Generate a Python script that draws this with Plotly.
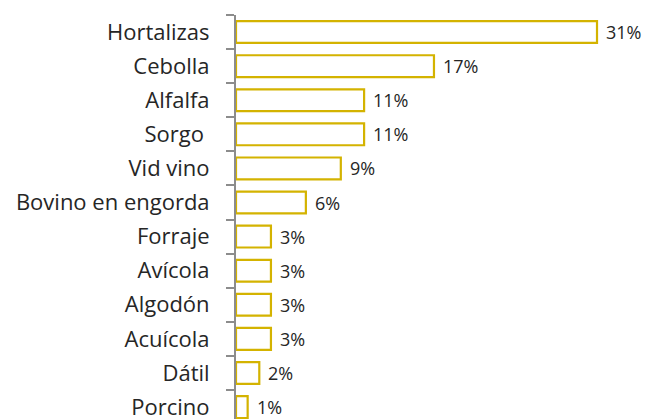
import plotly.graph_objects as go

categories = ["Hortalizas", "Cebolla", "Alfalfa", "Sorgo ", "Vid vino", "Bovino en engorda",
              "Forraje", "Avícola", "Algodón", "Acuícola", "Dátil", "Porcino"]
values = [31, 17, 11, 11, 9, 6, 3, 3, 3, 3, 2, 1]
value_labels = [f"{v}%" for v in values]

GOLD = "#D4B300"
GRAY = "#8C8C8C"
TEXT = "#262626"
FONT = "Open Sans"

fig = go.Figure(go.Bar(
    x=values, y=categories, orientation="h",
    marker=dict(color="white", line=dict(color=GOLD, width=2.2)),
    hoverinfo="skip",
))

for c, v, t in zip(categories, values, value_labels):
    fig.add_annotation(x=v, y=c, text=t, xanchor="left", yanchor="middle",
                       xshift=7, showarrow=False,
                       font=dict(family=FONT, size=18, color=TEXT))

fig.update_layout(
    width=642, height=411,
    margin=dict(l=228, r=0, t=7, b=0),
    plot_bgcolor="white", paper_bgcolor="white",
    bargap=0.36,
    showlegend=False,
    font=dict(family=FONT, size=22, color=TEXT),
)
fig.update_xaxes(range=[0, 35.55], visible=False, automargin=False)
fig.update_yaxes(
    type="category", categoryorder="array", categoryarray=categories,
    range=[11.35, -0.5], automargin=False,
    showline=True, linecolor=GRAY, linewidth=2,
    ticks="outside", tickson="boundaries", ticklen=8, tickcolor=GRAY, tickwidth=2,
    showgrid=False, zeroline=False,
    tickfont=dict(family=FONT, size=22, color=TEXT),
    ticklabelstandoff=20,
)

fig.write_html("out.html")
